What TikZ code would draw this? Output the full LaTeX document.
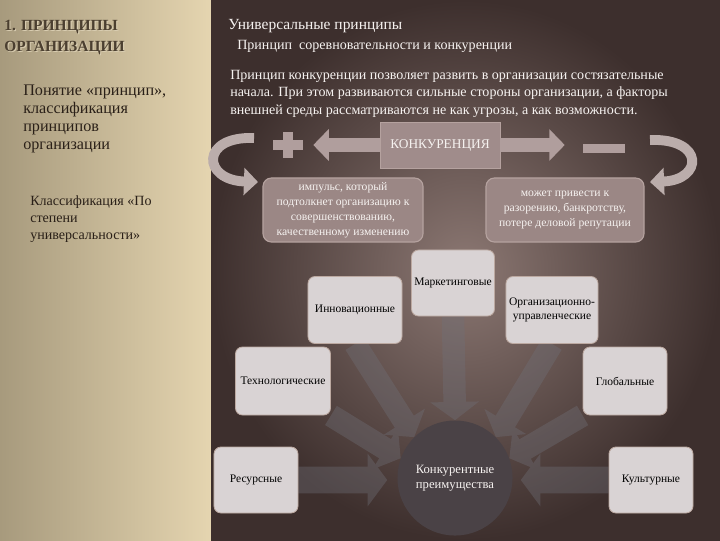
\documentclass[tikz,border=0pt]{standalone}
\usepackage{fontspec}
\setmainfont{Liberation Serif}
\usetikzlibrary{arrows.meta}
\definecolor{panelleft}{HTML}{A79A7D}
\definecolor{panelright}{HTML}{E5D5B0}
\definecolor{paneledge}{HTML}{3D2F2D}
\definecolor{panelmid}{HTML}{8C7873}
\definecolor{konkfill}{HTML}{A08C8B}
\definecolor{notefill}{HTML}{9B8785}
\definecolor{noteline}{HTML}{B5A29F}
\definecolor{signfill}{HTML}{B09E9D}
\definecolor{curvefill}{HTML}{BBADAB}
\definecolor{tilefill}{HTML}{D9D3D4}
\definecolor{tileline}{HTML}{BCA9A1}
\definecolor{spokefill}{HTML}{707078}
\definecolor{hubfill}{HTML}{4A4246}
\definecolor{inkdark}{HTML}{2A2018}
\definecolor{inklight}{HTML}{F6F2F0}
\definecolor{titleink}{HTML}{4B3F30}
\definecolor{titleglow}{HTML}{D8CCB0}
\pgfdeclarelayer{bg}
\pgfdeclarelayer{spokes}
\pgfsetlayers{bg,spokes,main}
\tikzset{
  lefttext/.style={anchor=north west, align=left, inner sep=0pt, text=inkdark},
  righttext/.style={anchor=north west, align=left, inner sep=0pt, text=inklight},
  konkbox/.style={fill=konkfill, draw=noteline, line width=0.6pt,
                  minimum width=3cm, minimum height=1.15cm, text=inklight,
                  font=\fontsize{9.5}{11}\selectfont},
  notebox/.style={fill=notefill, draw=noteline, line width=0.8pt, rounded corners=6pt,
                  minimum height=1.6cm, align=center, inner sep=1pt, text=inklight,
                  font=\fontsize{8.3}{10.6}\selectfont},
  tile/.style={fill=tilefill, draw=tileline, line width=0.6pt, rounded corners=5pt,
               minimum height=1.65cm, align=center, inner sep=1pt, text=black,
               font=\fontsize{8.2}{9.6}\selectfont},
  hubnode/.style={circle, fill=hubfill, minimum size=2.875cm, inner sep=0pt,
                  align=center, text=inklight, font=\fontsize{9}{10.5}\selectfont},
  signbar/.style={fill=signfill, inner sep=0pt},
  pointer/.style={draw=signfill, line width=10pt, -{Triangle[width=22pt,length=11pt]}},
  turnarrow/.style={draw=curvefill, line width=7pt, -{Triangle[width=19pt,length=10pt]}},
  spoke/.style={draw=spokefill, line width=16pt, -{Triangle[width=34pt,length=13pt]}},
  widespoke/.style={spoke, line width=19pt, -{Triangle[width=37pt,length=14pt]}},
}
\begin{document}
\begin{tikzpicture}[x=0.025cm, y=-0.025cm]
  \useasboundingbox (0,0) rectangle (720,540);
  \begin{pgfonlayer}{bg}
    \shade[left color=panelleft, right color=panelright] (0,0) rectangle (211,540);
    \shade[inner color=panelmid, outer color=paneledge] (211,0) rectangle (720,540);
  \end{pgfonlayer}

  % left column
  \node[lefttext, text=titleglow, font=\bfseries\fontsize{11}{15}\selectfont] (titleshade) at (5.2,21.2) {1. ПРИНЦИПЫ\\ОРГАНИЗАЦИИ};
  \node[lefttext, text=titleink, font=\bfseries\fontsize{11}{15}\selectfont] (title) at (4,20) {1. ПРИНЦИПЫ\\ОРГАНИЗАЦИИ};
  \node[lefttext, font=\fontsize{11.5}{12.75}\selectfont] (notion) at (23,85) {Понятие «принцип»,\\классификация\\принципов\\организации};
  \node[lefttext, font=\fontsize{10}{12.4}\selectfont] (classif) at (30,195) {Классификация «По\\степени\\универсальности»};

  % right column
  \node[righttext, font=\fontsize{11}{13}\selectfont] (heading) at (228,19) {Универсальные принципы};
  \node[righttext, font=\fontsize{10}{12}\selectfont] (subhead) at (237,40) {Принцип\ \ соревновательности и конкуренции};
  \node[righttext, font=\fontsize{10}{12.4}\selectfont] (para) at (230,70) {Принцип конкуренции позволяет развить в организации состязательные\\начала. При этом развиваются сильные стороны организации, а факторы\\внешней среды рассматриваются не как угрозы, а как возможности.};

  \node[konkbox] (konk) at (440,145) {КОНКУРЕНЦИЯ};
  \node[signbar, minimum width=0.75cm, minimum height=0.25cm] (plus) at (288,145) {};
  \node[signbar, minimum width=0.25cm, minimum height=0.65cm] (plusv) at (plus) {};
  \node[signbar, minimum width=1.05cm, minimum height=0.225cm] (minus) at (604,148) {};
  \draw[pointer, shorten >=0.25cm] (konk.west) -- (konk.west -| plus.east);
  \draw[pointer, shorten >=0.45cm] (konk.east) -- (konk.east -| minus.west);

  \coordinate (lturnA) at (254,138);
  \coordinate (lturnB) at (258,182);
  \coordinate (rturnA) at (650,140);
  \coordinate (rturnB) at (650,182);
  \draw[turnarrow] (lturnA) .. controls (200,136) and (202,180) .. (lturnB);
  \draw[turnarrow] (rturnA) .. controls (705,138) and (703,180) .. (rturnB);

  \node[notebox, minimum width=4cm] (boost) at (343,210) {импульс, который\\подтолкнет организацию к\\совершенствованию,\\качественному изменению};
  \node[notebox, minimum width=3.95cm] (risk) at (565,210) {может привести к\\разорению, банкротству,\\потере деловой репутации};

  % factors round the hub
  \node[tile, minimum width=2.075cm] (mark) at (453,283) {Маркетинговые};
  \node[tile, minimum width=2.35cm, minimum height=1.675cm] (innov) at (355,310) {Инновационные};
  \node[tile, minimum width=2.3cm, minimum height=1.675cm] (orgm) at (552,310) {Организационно-\\управленческие};
  \node[tile, minimum width=2.375cm, minimum height=1.7cm] (tech) at (283,381) {Технологические};
  \node[tile, minimum width=2.1cm, minimum height=1.7cm] (glob) at (625,381) {Глобальные};
  \node[tile, minimum width=2.1cm] (res) at (256,480) {Ресурсные};
  \node[tile, minimum width=2.1cm] (cult) at (651,480) {Культурные};
  \node[hubnode] (hub) at (455,478) {Конкурентные\\преимущества};

  \begin{pgfonlayer}{spokes}
    \begin{scope}[transparency group, opacity=0.38]
      \draw[widespoke, shorten >=0.25cm] (res.east) -- (res.east -| hub.west);
      \draw[widespoke, shorten >=0.2cm] (cult.west) -- (cult.west -| hub.east);
      \draw[spoke] (mark.south) -- (hub.north);
      \draw[spoke] (innov.south) -- (hub.135);
      \draw[spoke] (orgm.south) -- (hub.45);
      \draw[spoke] (tech.south east) -- (hub.160);
      \draw[spoke] (glob.south west) -- (hub.20);
    \end{scope}
  \end{pgfonlayer}
\end{tikzpicture}
\end{document}
